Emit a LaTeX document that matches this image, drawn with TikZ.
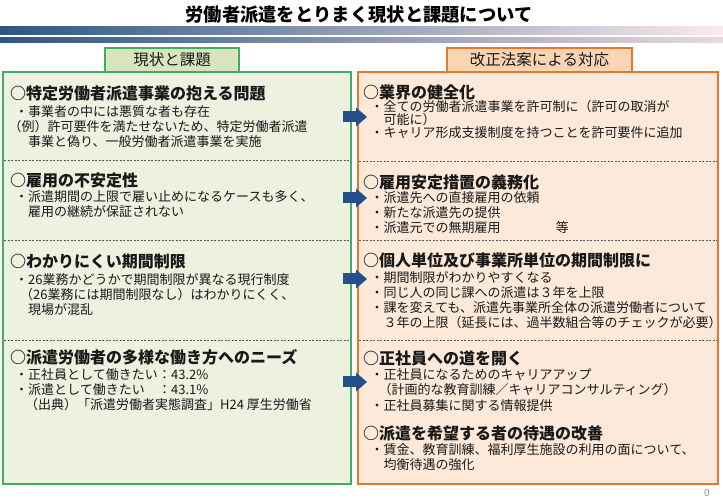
\documentclass[tikz,border=0pt]{standalone}
\usepackage{fontspec}
\setmainfont{Noto Sans CJK JP}
\usetikzlibrary{arrows.meta}
\definecolor{greenfill}{HTML}{ECF1E0}
\definecolor{greenline}{HTML}{3FAE62}
\definecolor{greentab}{HTML}{D8E4BC}
\definecolor{orangefill}{HTML}{FDE9D9}
\definecolor{orangeline}{HTML}{E6782C}
\definecolor{orangetab}{HTML}{FBD4B4}
\definecolor{arrowblue}{HTML}{23508A}
\definecolor{bandA}{HTML}{2C5687}
\definecolor{bandB}{HTML}{A9D0DF}
\definecolor{bandC}{HTML}{FBEAEC}
\definecolor{bandD}{HTML}{6C9FC0}
\definecolor{bandE}{HTML}{EBD9DD}

\begin{document}
\begin{tikzpicture}[x=1pt,y=-1pt,
  head/.style={anchor=west,inner sep=0pt,text=black!90,font=\bfseries\fontsize{16}{16}\selectfont},
  body/.style={anchor=north west,inner sep=0pt,align=left,text=black!90,font=\fontsize{13}{15}\selectfont},
  tab/.style={draw,line width=1.2pt,minimum height=24pt,inner sep=0pt,font=\fontsize{15.5}{15.5}\selectfont},
  sep/.style={dash pattern=on 2pt off 1.5pt,black!65,line width=0.6pt},
  bigarrow/.style={line width=11pt,arrowblue,-{Triangle[length=11pt,width=19pt,line width=0pt]}}]
\useasboundingbox (0,0) rectangle (723,502);
\fill[white] (0,0) rectangle (723,502);
% title and bands
\node[font=\bfseries\fontsize{18.3}{18.3}\selectfont] (title) at (359,15) {労働者派遣をとりまく現状と課題について};
\fill[left color=bandA,middle color=bandB,right color=bandC] (0,27) rectangle (723,34.5);
\fill[left color=bandA,middle color=bandD,right color=bandE] (0,37.5) rectangle (723,43);
% panels
\draw[greenline,fill=greenfill,line width=1.2pt] (3,72) rectangle (351,484);
\draw[orangeline,fill=orangefill,line width=1.2pt] (358,72) rectangle (718,484);
\node[tab,greenline,fill=greentab,text=black!90,minimum width=134pt] (tabL) at (172,60) {現状と課題};
\node[tab,orangeline,fill=orangetab,text=black!90,minimum width=185pt] (tabR) at (539.5,60) {改正法案による対応};
\foreach \y in {160,240,340} \draw[sep] (4,\y) -- (350,\y);
\foreach \y in {161,240,340} \draw[sep] (359,\y) -- (717,\y);

% left column
\node[head] (hL1) at (10,93) {○特定労働者派遣事業の抱える問題};
\node[body] (bL1) at (8.5,105.5) {\hspace*{6.5pt}・事業者の中には悪質な者も存在\\
  （例）許可要件を満たせないため、特定労働者派遣\\
  \hspace*{19.5pt}事業と偽り、一般労働者派遣事業を実施};
\node[head] (hL2) at (10,180) {○雇用の不安定性};
\node[body] (bL2) at (15,190) {・派遣期間の上限で雇い止めになるケースも多く、\\
  \hspace*{1em}雇用の継続が保証されない};
\node[head] (hL3) at (10,262) {○わかりにくい期間制限};
\node[body] (bL3) at (15,273.5) {・26業務かどうかで期間制限が異なる現行制度\\
  \hspace*{5pt}（26業務には期間制限なし）はわかりにくく、\\
  \hspace*{1em}現場が混乱};
\node[head] (hL4) at (10,357) {○派遣労働者の多様な働き方へのニーズ};
\node[body] (bL4) at (15,368.5) {・\makebox[10em][l]{正社員として働きたい}：43.2\%\\
  ・\makebox[10em][l]{派遣として働きたい}：43.1\%\\
  \hspace*{10pt}（出典）「派遣労働者実態調査」H24 厚生労働省};

% right column
\node[head] (hR1) at (363,92) {○業界の健全化};
\node[body] (bR1) at (370.5,100) {・全ての労働者派遣事業を許可制に（許可の取消が\\[-1.7pt]
  \hspace*{1em}可能に）\\[-1.7pt]
  ・キャリア形成支援制度を持つことを許可要件に追加};
\node[head] (hR2) at (363,182) {○雇用安定措置の義務化};
\node[body] (bR2) at (370.5,191.8) {・派遣先への直接雇用の依頼\\
  ・新たな派遣先の提供\\
  \makebox[14.25em][l]{・派遣元での無期雇用}等};
\node[head] (hR3) at (363,260) {○個人単位及び事業所単位の期間制限に};
\node[body] (bR3) at (370.5,271.8) {・期間制限がわかりやすくなる\\
  ・同じ人の同じ課への派遣は３年を上限\\
  ・課を変えても、派遣先事業所全体の派遣労働者について\\
  \hspace*{1em}３年の上限（延長には、過半数組合等のチェックが必要）};
\node[head] (hR4) at (363,358) {○正社員への道を開く};
\node[body] (bR4) at (370.5,368.5) {・正社員になるためのキャリアアップ\\
  \hspace*{0.6em}（計画的な教育訓練／キャリアコンサルティング）\\[1pt]
  ・正社員募集に関する情報提供};
\node[head] (hR5) at (363,433) {○派遣を希望する者の待遇の改善};
\node[body] (bR5) at (370.5,443.5) {・賃金、教育訓練、福利厚生施設の利用の面について、\\
  \hspace*{1em}均衡待遇の強化};

% arrows between the panels
\foreach \y [count=\i] in {117,198,279,382} {
  \coordinate (s\i) at (343,\y);
  \coordinate (t\i) at (367,\y);
  \draw[bigarrow] (s\i) -- (t\i);
}
\node[text=black!45,font=\fontsize{10}{10}\selectfont] (page) at (707,493) {0};
\end{tikzpicture}
\end{document}
